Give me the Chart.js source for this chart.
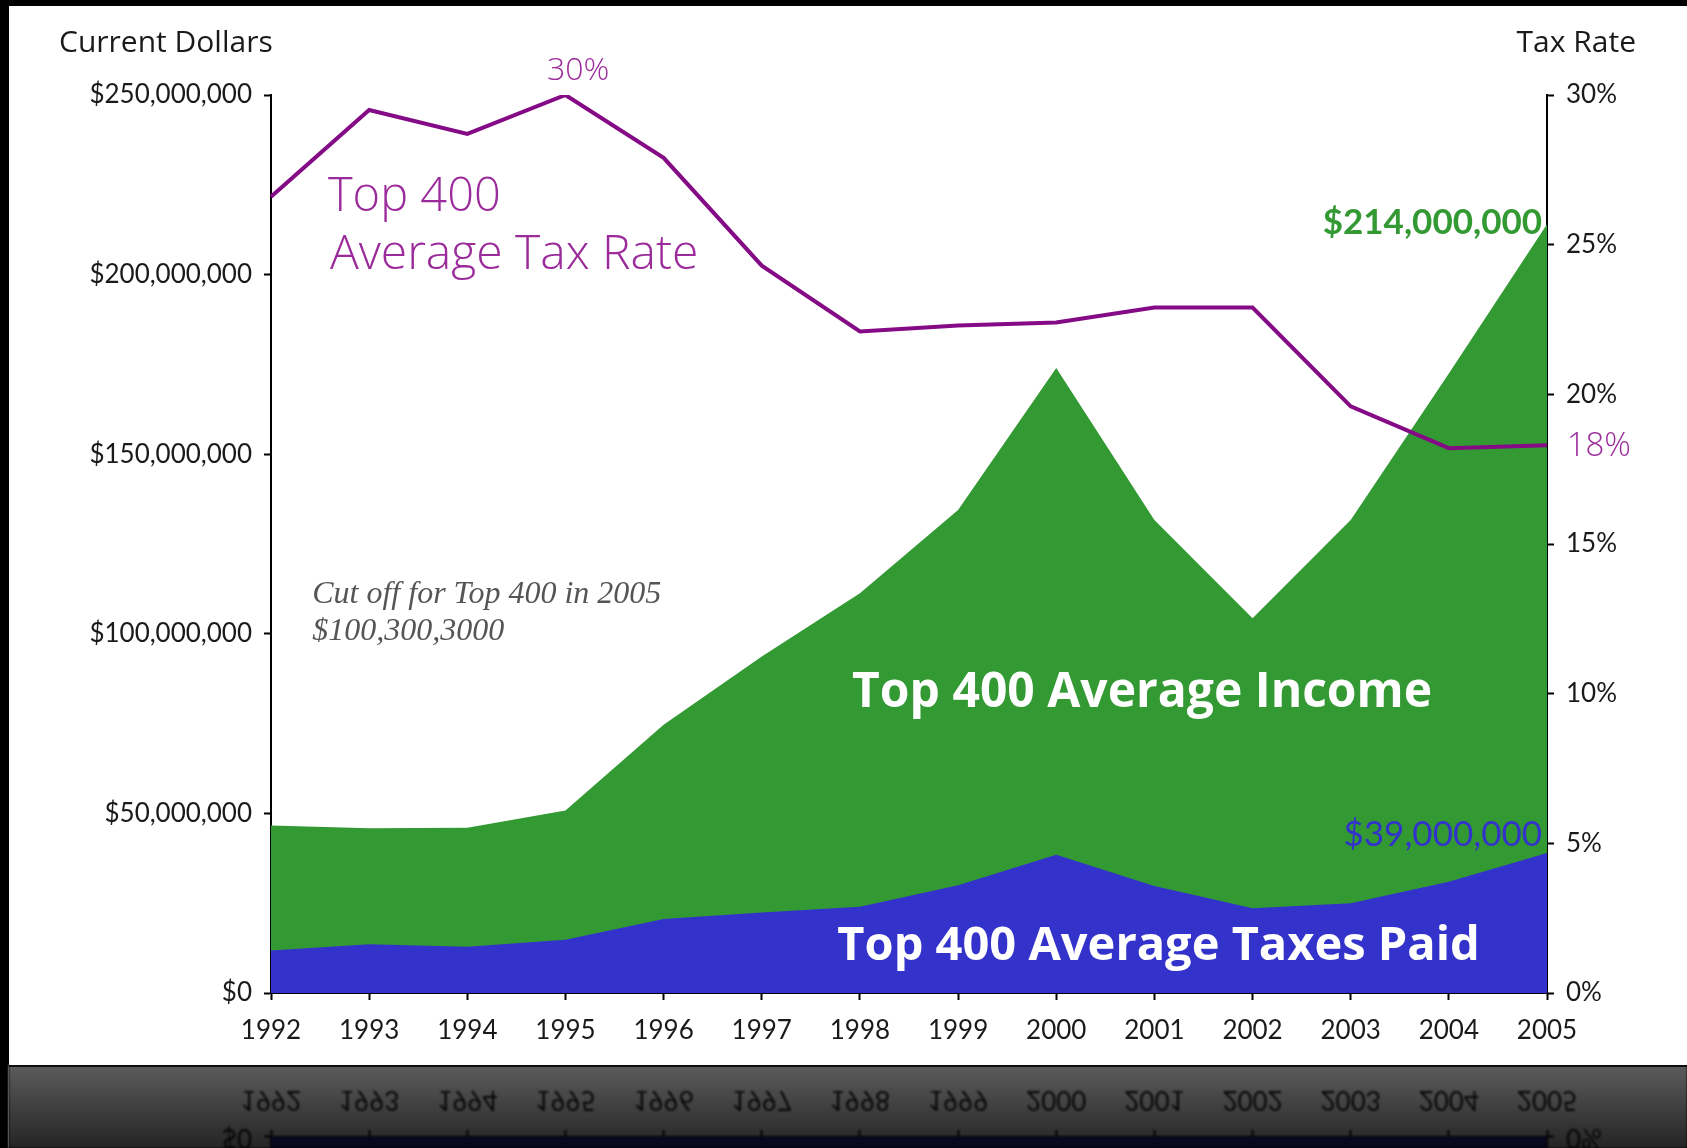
<!DOCTYPE html>
<html>
<head>
<meta charset="utf-8">
<script src="https://cdn.jsdelivr.net/npm/chart.js@4.4.4/dist/chart.umd.min.js"></script>
<style>
  html, body { margin: 0; padding: 0; background: #000; overflow: hidden; }
  canvas { display: block; }
</style>
</head>
<body>
<canvas id="chart" width="1687" height="1148"></canvas>
<script>
const years = ["1992", "1993", "1994", "1995", "1996", "1997", "1998",
               "1999", "2000", "2001", "2002", "2003", "2004", "2005"];

// average income of the top 400, current dollars
const avgIncome = [46.6e6, 45.9e6, 46.0e6, 50.8e6, 74.7e6, 93.7e6, 111.3e6,
                   134.5e6, 174.0e6, 131.7e6, 104.3e6, 131.7e6, 172.5e6, 214e6];
// average taxes paid, current dollars
const avgTaxesPaid = [11.8e6, 13.6e6, 12.9e6, 14.8e6, 20.6e6, 22.4e6, 24.0e6,
                      30.0e6, 38.5e6, 29.8e6, 23.6e6, 25.0e6, 31.0e6, 39e6];
// average tax rate, percent
const avgTaxRate = [26.6, 29.5, 28.7, 30.0, 27.9, 24.3, 22.1,
                    22.3, 22.4, 22.9, 22.9, 19.6, 18.2, 18.3];

const dollarMax = 250e6, dollarStep = 50e6;
const rateMax = 30, rateStep = 5;

const green = "#339933";
const blue = "#3333cc";
const purpleLine = "#850a85";
const purpleText = "#9b2a9b";

// text notes placed in data space: x = year index, y = value on the dollar axis
const notes = [
  { text: "Top 400", x: 0.58, y: 221.5e6, font: "300 47px 'Open Sans'", color: purpleText },
  { text: "Average Tax Rate", x: 0.6, y: 205.5e6, font: "300 48px 'Open Sans'", color: purpleText },
  { text: "30%", x: 3.13, y: 256.8e6, font: "300 32px 'Open Sans'", color: purpleText, align: "center" },
  { text: "18%", x: 13.2, y: 152e6, font: "300 33px 'Open Sans'", color: purpleText },
  { text: "$214,000,000", x: 12.95, y: 214.5e6, font: "bold 35px Lato", color: green, align: "right" },
  { text: "$39,000,000", x: 12.95, y: 44e6, font: "35px Lato", color: blue, align: "right" },
  { text: "Top 400 Average Income", x: 5.92, y: 83.3e6, font: "bold 48px 'Open Sans'", color: "#ffffff" },
  { text: "Top 400 Average Taxes Paid", x: 5.77, y: 12.8e6, font: "bold 47px 'Open Sans'", color: "#ffffff" },
  { text: "Cut off for Top 400 in 2005", x: 0.42, y: 110.9e6, font: "italic 32px 'Liberation Serif'", color: "#555555" },
  { text: "$100,300,3000", x: 0.42, y: 100.6e6, font: "italic 32px 'Liberation Serif'", color: "#555555" },
];

const paperTop = 6, paperLeft = 9, paperBottom = 1065;

const slidePlugin = {
  id: "slide",
  beforeDraw(chart) {
    const { ctx, width, height } = chart;
    ctx.save();
    ctx.fillStyle = "#000";
    ctx.fillRect(0, 0, width, height);
    ctx.fillStyle = "#fff";
    ctx.fillRect(paperLeft, paperTop, width - paperLeft, paperBottom - paperTop);
    ctx.restore();
  },
  afterDraw(chart) {
    const { ctx, width, height, scales } = chart;
    const x = scales.x, y = scales.y;
    ctx.save();
    ctx.textBaseline = "middle";
    notes.forEach((n) => {
      ctx.font = n.font;
      ctx.fillStyle = n.color;
      ctx.textAlign = n.align || "left";
      ctx.fillText(n.text, x.getPixelForValue(n.x), y.getPixelForValue(n.y));
    });
    // axis titles
    ctx.fillStyle = "#1a1a1a";
    ctx.font = "30px 'Open Sans'";
    ctx.textAlign = "left";
    ctx.fillText("Current Dollars", 59, 43);
    ctx.textAlign = "right";
    ctx.fillText("Tax Rate", 1636, 43);
    ctx.restore();

    // mirrored reflection under the slide
    const h = height - paperBottom;
    ctx.save();
    ctx.setTransform(1, 0, 0, 1, 0, 0);
    ctx.translate(0, 2 * paperBottom);
    ctx.scale(1, -1);
    ctx.filter = "blur(0.8px)";
    ctx.drawImage(chart.canvas, 0, paperBottom - h, width, h, 0, paperBottom - h, width, h);
    ctx.restore();
    ctx.save();
    const g = ctx.createLinearGradient(0, paperBottom, 0, height);
    g.addColorStop(0, "rgba(0,0,0,0.64)");
    g.addColorStop(1, "rgba(0,0,0,0.86)");
    ctx.fillStyle = g;
    ctx.fillRect(paperLeft, paperBottom, width - paperLeft, h);
    ctx.fillStyle = "rgba(0,0,0,0.8)";
    ctx.fillRect(paperLeft, paperBottom, width - paperLeft, 2);
    ctx.restore();
  },
};

const tickFont = { family: "Lato", size: 26 };

new Chart(document.getElementById("chart"), {
  type: "line",
  data: {
    labels: years,
    datasets: [
      {
        label: "Top 400 Average Tax Rate",
        data: avgTaxRate,
        yAxisID: "y1",
        borderColor: purpleLine,
        borderWidth: 4,
        fill: false,
        pointRadius: 0,
        order: 0,
      },
      {
        label: "Top 400 Average Taxes Paid",
        data: avgTaxesPaid,
        yAxisID: "y",
        backgroundColor: blue,
        borderWidth: 0,
        fill: "origin",
        pointRadius: 0,
        order: 1,
      },
      {
        label: "Top 400 Average Income",
        data: avgIncome,
        yAxisID: "y",
        backgroundColor: green,
        borderWidth: 0,
        fill: "origin",
        pointRadius: 0,
        order: 2,
      },
    ],
  },
  options: {
    responsive: false,
    animation: false,
    devicePixelRatio: 1,
    layout: { padding: { top: 95, left: 0, right: 0, bottom: 0 } },
    elements: { line: { tension: 0 } },
    plugins: {
      legend: { display: false },
      tooltip: { enabled: false },
    },
    scales: {
      x: {
        offset: false,
        z: 1,
        grid: { drawOnChartArea: false, tickLength: 7, tickColor: "#000", tickWidth: 2 },
        border: { color: "#000", width: 2 },
        ticks: { color: "#1a1a1a", font: tickFont, padding: 15, maxRotation: 0 },
        afterFit(scale) { scale.height = 1148 - 993; },
      },
      y: {
        position: "left",
        min: 0,
        max: dollarMax,
        z: 1,
        grid: { drawOnChartArea: false, tickLength: 7, tickColor: "#000", tickWidth: 2 },
        border: { color: "#000", width: 2 },
        ticks: {
          stepSize: dollarStep,
          color: "#1a1a1a",
          font: tickFont,
          padding: 12,
          callback: (v) => "$" + v.toLocaleString("en-US"),
        },
        afterFit(scale) { scale.width = 271; },
      },
      y1: {
        position: "right",
        min: 0,
        max: rateMax,
        z: 1,
        grid: { drawOnChartArea: false, tickLength: 7, tickColor: "#000", tickWidth: 2 },
        border: { color: "#000", width: 2 },
        ticks: {
          stepSize: rateStep,
          color: "#1a1a1a",
          font: tickFont,
          padding: 12,
          callback: (v) => v + "%",
        },
        afterFit(scale) { scale.width = 1687 - 1547; },
      },
    },
  },
  plugins: [slidePlugin],
});
</script>
</body>
</html>
